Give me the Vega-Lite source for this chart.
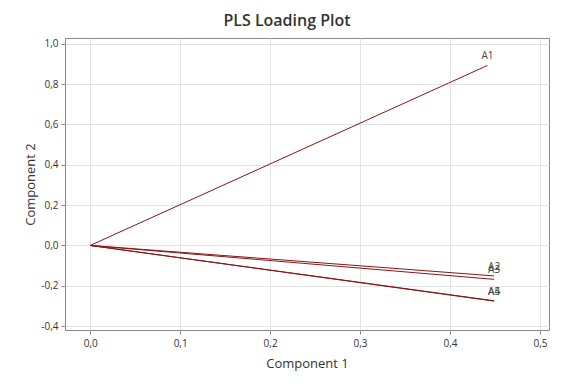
{
  "$schema": "https://vega.github.io/schema/vega-lite/v6.json",
  "width": 484,
  "height": 292,
  "autosize": {"type": "none"},
  "padding": {"left": 65, "top": 38, "right": 27, "bottom": 54},
  "background": "white",
  "title": {"text": "PLS Loading Plot", "fontSize": 16, "font": "Open Sans", "fontWeight": 600, "color": "#333333", "offset": 9, "anchor": "middle", "dx": -20},
  "config": {
    "view": {"stroke": "#888888", "strokeWidth": 1},
    "axis": {
      "gridColor": "#e3e3e3",
      "domain": false,
      "tickColor": "#888888",
      "tickSize": 4,
      "labelFont": "Open Sans",
      "labelFontSize": 10,
      "labelColor": "#333333",
      "titleFont": "Open Sans",
      "titleFontSize": 13,
      "titleFontWeight": "normal",
      "titleColor": "#333333"
    }
  },
  "data": {
    "values": [
      {"name": "A1", "c1": 0.4416, "c2": 0.892},
      {"name": "A2", "c1": 0.449, "c2": -0.151},
      {"name": "A3", "c1": 0.449, "c2": -0.168},
      {"name": "A4", "c1": 0.449, "c2": -0.274},
      {"name": "A5", "c1": 0.449, "c2": -0.276}
    ]
  },
  "encoding": {
    "x": {
      "field": "c1", "type": "quantitative",
      "scale": {"domain": [-0.028, 0.51], "nice": false, "zero": false},
      "axis": {"title": "Component 1", "values": [0, 0.1, 0.2, 0.3, 0.4, 0.5], "labelExpr": "replace(format(datum.value, '.1f'), '.', ',')", "titlePadding": 9, "labelPadding": 4}
    },
    "y": {
      "field": "c2", "type": "quantitative",
      "scale": {"domain": [-0.419, 1.028], "nice": false, "zero": false},
      "axis": {"title": "Component 2", "values": [-0.4, -0.2, 0, 0.2, 0.4, 0.6, 0.8, 1.0], "labelExpr": "replace(replace(format(datum.value, '.1f'), '.', ','), '−', '-')", "titlePadding": 3, "labelPadding": 3}
    }
  },
  "layer": [
    {
      "mark": {"type": "rule", "color": "#8b1414", "strokeWidth": 1},
      "encoding": {
        "x2": {"datum": 0},
        "y2": {"datum": 0}
      }
    },
    {
      "mark": {"type": "text", "dy": -9, "align": "center", "font": "Open Sans", "fontSize": 10, "color": "#444444"},
      "encoding": {"text": {"field": "name"}}
    }
  ]
}
